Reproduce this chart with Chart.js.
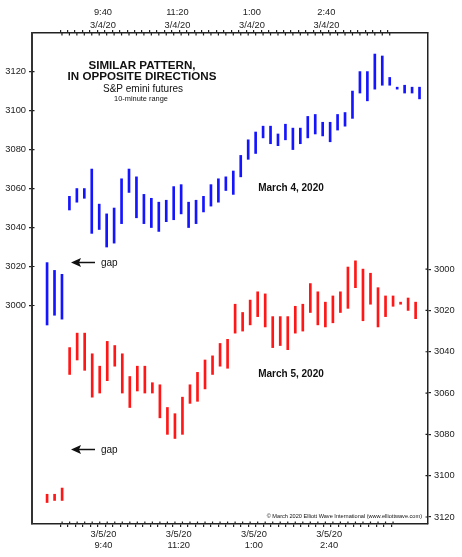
<!DOCTYPE html>
<html>
<head>
<meta charset="utf-8">
<script src="https://cdn.jsdelivr.net/npm/chart.js@4.4.1/dist/chart.umd.min.js"></script>
<style>
  html, body { margin: 0; padding: 0; background: #fff; }
  #wrap { width: 462px; height: 557px; }
</style>
</head>
<body>
<div id="wrap"><canvas id="chart"></canvas></div>
<script>
// 10-minute bars, index 0..n-1 (first three are the prior session close)
const blueHigh = [3022, 3018, 3016, 3056, 3060, 3060, 3070, 3052, 3047, 3050,
                  3065, 3070, 3066, 3057, 3055, 3053, 3054, 3061, 3062, 3053,
                  3054, 3056, 3062, 3065, 3066, 3069, 3077, 3085, 3089, 3092,
                  3092, 3088, 3093, 3091, 3091, 3097, 3098, 3094, 3094, 3098,
                  3099, 3110, 3120, 3120, 3129, 3128, 3117, 3112, 3113, 3112, 3112];
const blueLow  = [2990, 2995, 2993, 3049, 3053, 3055, 3037, 3039, 3030, 3032,
                  3042, 3058, 3045, 3042, 3040, 3038, 3043, 3044, 3047, 3040,
                  3042, 3048, 3051, 3053, 3059, 3057, 3066, 3075, 3078, 3086,
                  3083, 3082, 3085, 3080, 3083, 3086, 3088, 3087, 3084, 3090,
                  3092, 3096, 3109, 3105, 3111, 3113, 3113, 3111, 3109, 3109, 3106];

// March 5 (plotted on an inverted right axis)
const redLow   = [3109, 3109, 3106, 3038, 3031, 3031, 3041, 3047, 3035, 3037,
                  3041, 3052, 3047, 3047, 3055, 3056, 3067, 3070, 3062, 3056,
                  3050, 3044, 3042, 3036, 3034, 3017, 3021, 3015, 3011, 3012,
                  3023, 3023, 3023, 3018, 3017, 3007, 3011, 3016, 3013, 3011,
                  2999, 2996, 3000, 3002, 3009, 3013, 3013, 3016, 3014, 3016];
const redHigh  = [3113, 3112, 3112, 3051, 3044, 3049, 3062, 3060, 3054, 3047,
                  3060, 3067, 3059, 3060, 3060, 3072, 3080, 3082, 3080, 3065,
                  3064, 3058, 3051, 3047, 3048, 3031, 3030, 3027, 3023, 3028,
                  3038, 3037, 3039, 3031, 3030, 3021, 3027, 3028, 3026, 3021,
                  3019, 3009, 3025, 3017, 3028, 3023, 3018, 3017, 3020, 3024];

const priceTicks = [3000, 3020, 3040, 3060, 3080, 3100, 3120];
const timeLabelPos = [7.5, 17.5, 27.5, 37.5];
const timeLabels = ['9:40', '11:20', '1:00', '2:40'];

const FONT = "'Liberation Sans', Arial, Helvetica, sans-serif";
const INK = '#222';
Chart.defaults.font.family = FONT;
Chart.defaults.color = INK;

function minorTicks(scale) {
  const t = [];
  for (let v = 2; v <= 46; v += 0.5) t.push({ value: v });
  scale.ticks = t;
}
function priceTickList(scale) {
  scale.ticks = priceTicks.map(v => ({ value: v }));
}
function tickColor(ctx) {
  return ctx.tick && Number.isInteger(ctx.tick.value) ? INK : 'rgba(0,0,0,0)';
}

const blueData = blueHigh.map((h, i) => ({ x: i, y: [blueLow[i], h] }));
const redData = redHigh.map((h, i) => ({ x: i, y: [redLow[i], h] }));

// short inward half of each tick mark, so they cross the frame like the original
const innerTicks = {
  id: 'innerTicks',
  afterDraw(chart) {
    const { ctx, chartArea: a, scales } = chart;
    const len = 2.5;
    ctx.save();
    ctx.strokeStyle = INK;
    ctx.lineWidth = 1.2;
    ctx.beginPath();
    for (let v = 2; v <= 46; v++) {
      const xt = scales.x.getPixelForValue(v);
      ctx.moveTo(xt, a.top); ctx.lineTo(xt, a.top + len);
      const xb = scales.x2.getPixelForValue(v);
      ctx.moveTo(xb, a.bottom); ctx.lineTo(xb, a.bottom - len);
    }
    priceTicks.forEach(v => {
      const yl = scales.y.getPixelForValue(v);
      ctx.moveTo(a.left, yl); ctx.lineTo(a.left + len, yl);
      const yr = scales.y2.getPixelForValue(v);
      ctx.moveTo(a.right, yr); ctx.lineTo(a.right - len, yr);
    });
    ctx.stroke();
    ctx.restore();
  }
};

function arrowLeft(ctx, x1, x2, y) {
  ctx.beginPath();
  ctx.moveTo(x2, y); ctx.lineTo(x1 + 7, y);
  ctx.lineWidth = 1.5;
  ctx.stroke();
  ctx.beginPath();
  ctx.moveTo(x1, y);
  ctx.lineTo(x1 + 10, y - 4.5);
  ctx.lineTo(x1 + 8, y);
  ctx.lineTo(x1 + 10, y + 4.5);
  ctx.closePath();
  ctx.fill();
}

const notes = {
  id: 'notes',
  afterDraw(chart) {
    const { ctx, chartArea: a } = chart;
    const L = a.left, T = a.top;
    ctx.save();
    ctx.fillStyle = '#111';
    ctx.strokeStyle = '#111';
    ctx.textAlign = 'center';
    ctx.textBaseline = 'middle';
    ctx.font = 'bold 11.6px ' + FONT;
    ctx.fillText('SIMILAR PATTERN,', L + 110, T + 32.5);
    ctx.fillText('IN OPPOSITE DIRECTIONS', L + 110, T + 44);
    ctx.font = '10px ' + FONT;
    ctx.fillText('S&P emini futures', L + 111, T + 56.5);
    ctx.font = '7.4px ' + FONT;
    ctx.fillText('10-minute range', L + 109, T + 65.5);

    ctx.font = 'bold 10px ' + FONT;
    ctx.fillText('March 4, 2020', L + 259, T + 155.5);
    ctx.fillText('March 5, 2020', L + 259, T + 341);

    ctx.textAlign = 'left';
    ctx.font = '10px ' + FONT;
    [T + 229.5, T + 416.5].forEach(y => {
      arrowLeft(ctx, L + 39, L + 63, y);
      ctx.fillText('gap', L + 69, y + 0.5);
    });

    ctx.textAlign = 'right';
    ctx.font = '5.6px ' + FONT;
    ctx.fillText('\u00A9 March 2020 Elliott Wave International (www.elliottwave.com)', a.right - 6, a.bottom - 8);
    ctx.restore();
  }
};

new Chart(document.getElementById('chart').getContext('2d'), {
  type: 'bar',
  data: {
    datasets: [{
      label: 'March 4, 2020',
      data: blueData,
      xAxisID: 'x',
      yAxisID: 'y',
      backgroundColor: 'rgb(20, 20, 255)',
      barThickness: 2,
      grouped: false,
      borderWidth: 0
    }, {
      label: 'March 5, 2020',
      data: redData,
      xAxisID: 'x2',
      yAxisID: 'y2',
      backgroundColor: 'rgb(255, 22, 22)',
      barThickness: 2,
      grouped: false,
      borderWidth: 0
    }]
  },
  options: {
    responsive: true,
    maintainAspectRatio: false,
    animation: false,
    layout: { padding: 0, autoPadding: false },
    plugins: {
      legend: { display: false },
      tooltip: { enabled: false }
    },
    scales: {
      x: {
        type: 'linear',
        position: 'top',
        min: -1.724,
        max: 50.84,
        afterBuildTicks: minorTicks,
        afterFit: s => { s.height = 33; },
        border: { display: true, color: INK, width: 1.5 },
        grid: { drawOnChartArea: false, tickLength: 3, color: tickColor, lineWidth: 1.2 },
        ticks: {
          autoSkip: false,
          maxRotation: 0,
          padding: -1,
          font: { size: 9.3, lineHeight: 1.3 },
          callback: v => {
            const k = timeLabelPos.indexOf(v);
            return k >= 0 ? [timeLabels[k], '3/4/20'] : '';
          }
        }
      },
      x2: {
        type: 'linear',
        position: 'bottom',
        min: -1.708,
        max: 50.35,
        afterBuildTicks: minorTicks,
        afterFit: s => { s.height = 33; },
        border: { display: true, color: INK, width: 1.5 },
        grid: { drawOnChartArea: false, tickLength: 3, color: tickColor, lineWidth: 1.2 },
        ticks: {
          autoSkip: false,
          maxRotation: 0,
          padding: 2,
          font: { size: 9.3 },
          callback: v => {
            const k = timeLabelPos.indexOf(v);
            return k >= 0 ? ['3/5/20', timeLabels[k]] : '';
          }
        }
      },
      y: {
        type: 'linear',
        position: 'left',
        min: 2887.9,
        max: 3139.8,
        afterBuildTicks: priceTickList,
        afterFit: s => { s.width = 32; },
        border: { display: true, color: '#333', width: 2 },
        grid: { drawOnChartArea: false, tickLength: 3, color: INK, lineWidth: 1.2 },
        ticks: { padding: 3, font: { size: 9.3 }, callback: v => String(v) }
      },
      y2: {
        type: 'linear',
        position: 'right',
        reverse: true,
        min: 2885.7,
        max: 3123.4,
        afterBuildTicks: priceTickList,
        afterFit: s => { s.width = 34; },
        border: { display: true, color: INK, width: 1.5 },
        grid: { drawOnChartArea: false, tickLength: 3, color: INK, lineWidth: 1.2 },
        ticks: { padding: 3, font: { size: 9.3 }, callback: v => String(v) }
      }
    }
  },
  plugins: [innerTicks, notes]
});
</script>
</body>
</html>
